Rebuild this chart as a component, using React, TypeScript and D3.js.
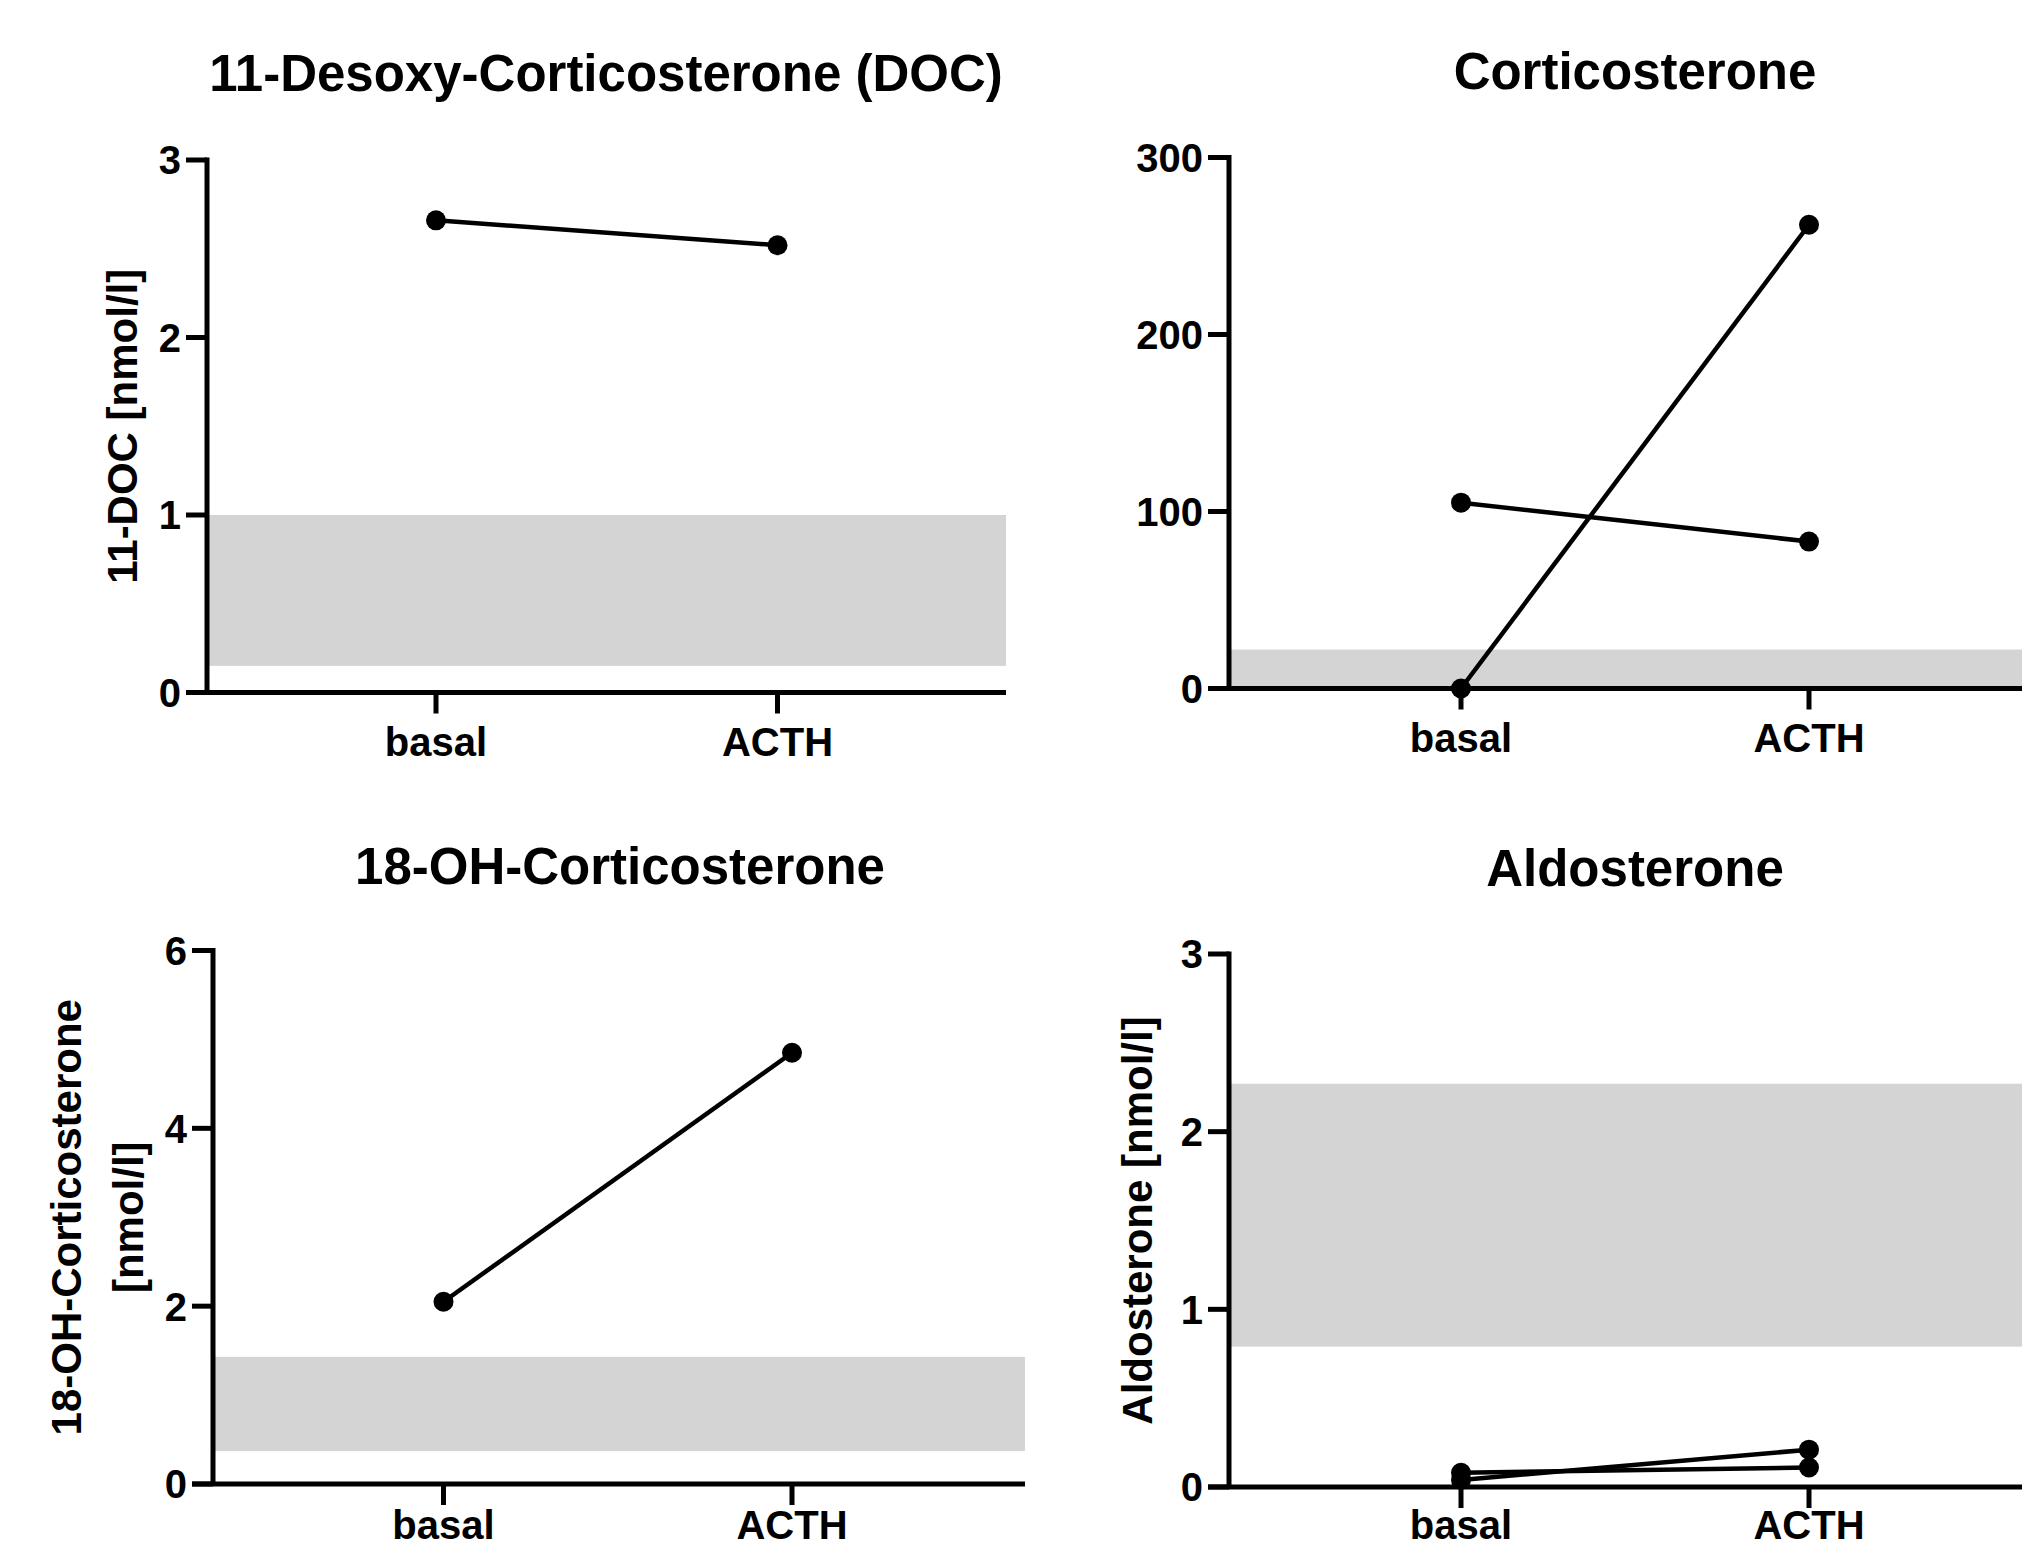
import React from 'react';
import * as d3 from 'd3';

const categories = ['basal', 'ACTH'];

// 11-Desoxy-Corticosterone
const docSeries = [[2.66, 2.52]];
const docRange = [0.15, 1.0];
const docTicks = [0, 1, 2, 3];

// Corticosterone
const corticoSeries = [[105, 83], [0, 262]];
const corticoRange = [0, 22];
const corticoTicks = [0, 100, 200, 300];

// 18-OH-Corticosterone
const ohSeries = [[2.05, 4.85]];
const ohRange = [0.37, 1.43];
const ohTicks = [0, 2, 4, 6];

// Aldosterone
const aldoSeries = [[0.08, 0.11], [0.04, 0.21]];
const aldoRange = [0.79, 2.27];
const aldoTicks = [0, 1, 2, 3];

const FONT = '"Liberation Sans", Arial, Helvetica, sans-serif';

type PanelProps = {
  title: string;
  titleX: number;
  titleY: number;
  yLabel: string[];
  yLabelX: number;
  left: number;
  right: number;
  top: number;
  bottom: number;
  xBasal: number;
  xActh: number;
  ticks: number[];
  series: number[][];
  range: number[];
  labelOffset?: number;
};

const Panel = (p: PanelProps) => {
  const y = d3.scaleLinear().domain([0, p.ticks[p.ticks.length - 1]]).range([p.bottom, p.top]);
  const x = d3.scalePoint<string>().domain(categories).range([p.xBasal, p.xActh]);
  const line = d3.line<number>()
    .x((_, i) => x(categories[i]) as number)
    .y((d) => y(d));
  const midY = (p.top + p.bottom) / 2;
  const lh = 62;
  const labelOffset = p.labelOffset ?? 63;

  return (
    <g fontFamily={FONT} fontWeight="bold" fill="#000">
      <text x={p.titleX} y={p.titleY} textAnchor="middle" fontSize={51}>{p.title}</text>

      {/* reference range */}
      <rect x={p.left} width={p.right - p.left}
        y={y(p.range[1])} height={y(p.range[0]) - y(p.range[1])} fill="#d4d4d4" />

      {/* y axis */}
      <line x1={p.left} x2={p.left} y1={p.top - 2.5} y2={p.bottom} stroke="#000" strokeWidth={5} />
      {p.ticks.map((t) => (
        <g key={t}>
          <line x1={p.left - 21} x2={p.left} y1={y(t)} y2={y(t)} stroke="#000" strokeWidth={5} />
          <text x={p.left - 26} y={y(t)} dy="0.36em" textAnchor="end" fontSize={40}>{t}</text>
        </g>
      ))}

      {/* x axis */}
      <line x1={p.left - 21} x2={p.right} y1={p.bottom} y2={p.bottom} stroke="#000" strokeWidth={5} />
      {categories.map((c) => (
        <g key={c}>
          <line x1={x(c)} x2={x(c)} y1={p.bottom} y2={p.bottom + 21} stroke="#000" strokeWidth={5} />
          <text x={x(c)} y={p.bottom + labelOffset} textAnchor="middle" fontSize={40}>{c}</text>
        </g>
      ))}

      {/* y label */}
      {p.yLabel.length > 0 && (
        <text transform={`translate(${p.yLabelX},${midY}) rotate(-90)`} textAnchor="middle" fontSize={42}>
          {p.yLabel.map((s, i) => (
            <tspan key={i} x={0} y={(i - (p.yLabel.length - 1) / 2) * lh} dy="0.36em">{s}</tspan>
          ))}
        </text>
      )}

      {/* data */}
      {p.series.map((s, i) => (
        <g key={i}>
          <path d={line(s) || ''} fill="none" stroke="#000" strokeWidth={4.5} />
          {s.map((v, j) => (
            <circle key={j} cx={x(categories[j])} cy={y(v)} r={10} fill="#000" />
          ))}
        </g>
      ))}
    </g>
  );
};

export default function App() {
  return (
    <svg width={2022} height={1550} style={{ position: 'absolute', left: 0, top: 0, background: '#fff' }}>
      <rect width={2022} height={1550} fill="#fff" />
      <Panel title="11-Desoxy-Corticosterone (DOC)" titleX={606} titleY={91}
        yLabel={['11-DOC [nmol/l]']} yLabelX={122}
        left={207} right={1006} top={160} bottom={692.5}
        xBasal={436} xActh={777.5}
        ticks={docTicks} series={docSeries} range={docRange} />
      <Panel title="Corticosterone" titleX={1635} titleY={89}
        yLabel={[]} yLabelX={0}
        left={1229} right={2030} top={157.5} bottom={688.5}
        xBasal={1461} xActh={1809}
        ticks={corticoTicks} series={corticoSeries} range={corticoRange} />
      <Panel title="18-OH-Corticosterone" titleX={620} titleY={884}
        yLabel={['18-OH-Corticosterone', '[nmol/l]']} yLabelX={97}
        left={213} right={1025} top={950.5} bottom={1484}
        xBasal={443.5} xActh={792}
        ticks={ohTicks} series={ohSeries} range={ohRange} labelOffset={55} />
      <Panel title="Aldosterone" titleX={1635} titleY={886}
        yLabel={['Aldosterone [nmol/l]']} yLabelX={1137}
        left={1229} right={2030} top={954} bottom={1487}
        xBasal={1461} xActh={1809}
        ticks={aldoTicks} series={aldoSeries} range={aldoRange} labelOffset={52} />
    </svg>
  );
}
